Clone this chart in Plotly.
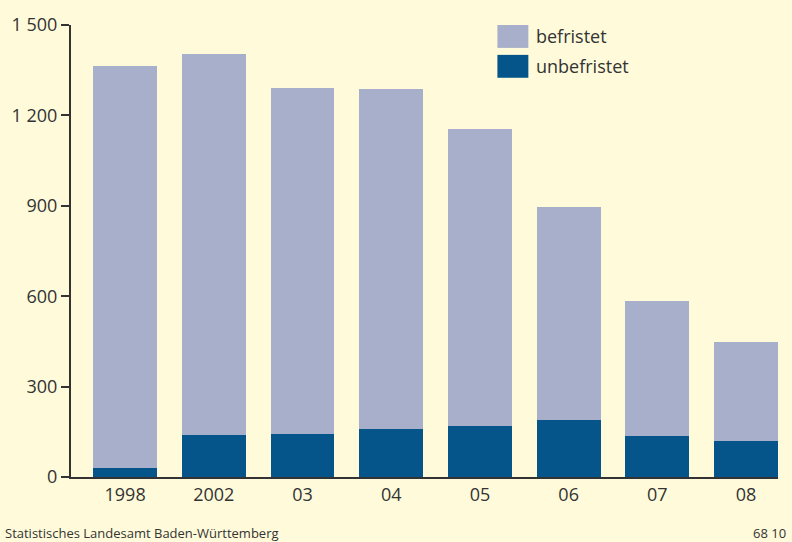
import plotly.graph_objects as go

# Jahre und Werte
years = ['1998', '2002', '03', '04', '05', '06', '07', '08']
unbefristet = [30, 139, 142, 159, 168, 188, 135, 119]
befristet = [1334, 1265, 1150, 1129, 988, 707, 450, 330]
y_ticks = [0, 300, 600, 900, 1200, 1500]
y_tick_labels = ['0', '300', '600', '900', '1 200', '1 500']

bg = '#FFFBDA'
col_light = '#A8AFCA'
col_dark = '#05548A'
txt = '#333333'
font_family = 'Open Sans, Liberation Sans, Arial, sans-serif'

fig = go.Figure()
fig.add_trace(go.Bar(x=years, y=unbefristet, name='unbefristet',
                     marker=dict(color=col_dark, line=dict(width=0)),
                     width=0.72, showlegend=False))
fig.add_trace(go.Bar(x=years, y=befristet, name='befristet',
                     marker=dict(color=col_light, line=dict(width=0)),
                     width=0.72, showlegend=False))

# Legende als Kästchen + Text
legend_items = [('befristet', col_light), ('unbefristet', col_dark)]
for i, (label, c) in enumerate(legend_items):
    y0 = 1 - (i * 30) / 454
    fig.add_shape(type='rect', xref='paper', yref='paper',
                  x0=(497 - 70) / 708, x1=(528 - 70) / 708,
                  y0=y0 - 23 / 454, y1=y0, fillcolor=c, line=dict(width=0))
    fig.add_annotation(text=label, xref='paper', yref='paper',
                       x=(534 - 70) / 708, y=y0 - 11.5 / 454,
                       xanchor='left', yanchor='middle', showarrow=False,
                       font=dict(size=18, color=txt, family=font_family))

fig.add_annotation(text='Statistisches Landesamt Baden-Württemberg',
                   xref='paper', yref='paper', x=-68 / 708, y=-56 / 454,
                   xanchor='left', yanchor='middle', showarrow=False,
                   font=dict(size=13, color=txt, family=font_family))
fig.add_annotation(text='68 10', xref='paper', yref='paper',
                   x=1 + 10 / 708, y=-56 / 454,
                   xanchor='right', yanchor='middle', showarrow=False,
                   font=dict(size=13, color=txt, family=font_family))

fig.update_layout(
    barmode='stack',
    width=792, height=542,
    margin=dict(l=70, r=14, t=23, b=65),
    paper_bgcolor=bg, plot_bgcolor=bg,
    font=dict(family=font_family, size=18, color=txt),
    xaxis=dict(range=[-0.61, 7.36], showgrid=False, zeroline=False,
               showline=True, linecolor='#333333', linewidth=2,
               ticks='', tickfont=dict(size=18, color=txt)),
    yaxis=dict(range=[0, 1500], tickvals=y_ticks, ticktext=y_tick_labels,
               showgrid=False, zeroline=False, showline=True,
               linecolor='#333333', linewidth=2, ticks='outside',
               ticklen=8, tickwidth=2, tickcolor='#333333',
               tickfont=dict(size=18, color=txt)),
)

fig.write_html('out.html', config={'displayModeBar': False},
               post_script="document.body.style.margin='0';")
